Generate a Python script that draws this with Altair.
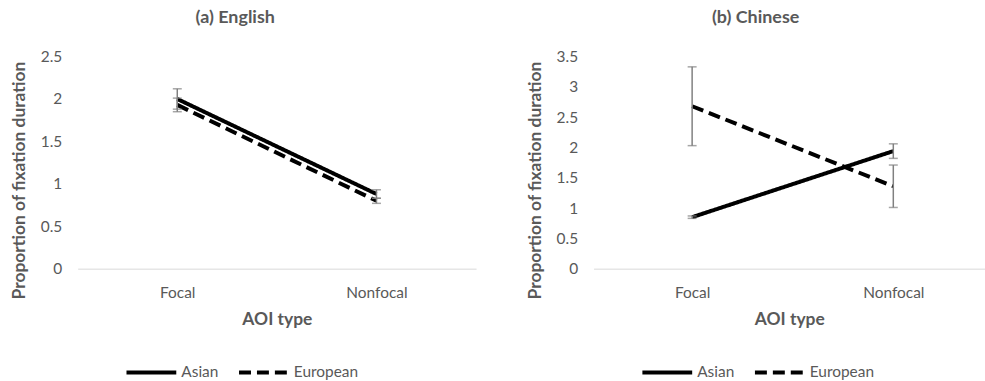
import altair as alt
import pandas as pd

conditions = ["Focal", "Nonfocal"]
groups = ["Asian", "European"]

# (a) English: means and error-bar half-widths
english_asian = [2.00, 0.88]
english_asian_err = [0.12, 0.05]
english_european = [1.93, 0.80]
english_european_err = [0.08, 0.03]

# (b) Chinese
chinese_asian = [0.85, 1.94]
chinese_asian_err = [0.02, 0.12]
chinese_european = [2.68, 1.36]
chinese_european_err = [0.65, 0.35]

FONT = "Lato"
GREY = "#595959"
ERR_GREY = "#808080"


def frame(asian, asian_err, european, european_err):
    rows = []
    for g, means, errs in [("Asian", asian, asian_err), ("European", european, european_err)]:
        for c, m, e in zip(conditions, means, errs):
            rows.append({"aoi": c, "group": g, "mean": m, "lo": m - e, "hi": m + e})
    return pd.DataFrame(rows)


def panel(df, title, ymax, width, xpad, xalign, legend_x, title_dx):
    ticks = [i * 0.5 for i in range(int(round(ymax / 0.5)) + 1)]
    x = alt.X(
        "aoi:N",
        sort=conditions,
        scale=alt.Scale(type="point", padding=xpad, align=xalign),
        axis=alt.Axis(title="AOI type", labelAngle=0),
    )
    yscale = alt.Scale(domain=[0, ymax], nice=False)
    yaxis = alt.Axis(title="Proportion of fixation duration", values=ticks, format="~g", titleY=124)
    base = alt.Chart(df)

    lines = base.mark_line(color="black", strokeWidth=4).encode(
        x=x,
        y=alt.Y("mean:Q", scale=yscale, axis=yaxis),
        strokeDash=alt.StrokeDash(
            "group:N",
            scale=alt.Scale(domain=groups, range=[[1, 0], [12, 6]]),
            legend=alt.Legend(
                title=None,
                orient="none",
                legendX=legend_x,
                legendY=290,
                direction="horizontal",
                symbolType="stroke",
                symbolSize=2500,
                symbolStrokeWidth=4,
                symbolStrokeColor="black",
                labelFont=FONT,
                labelFontSize=15.5,
                labelColor=GREY,
                labelOffset=3,
                columnPadding=12,
            ),
        ),
        detail="group:N",
    )
    bars = base.mark_rule(color=ERR_GREY, strokeWidth=1.5).encode(
        x=x, y=alt.Y("lo:Q", scale=yscale, axis=yaxis), y2="hi:Q"
    )
    cap_lo = base.mark_tick(color=ERR_GREY, thickness=1.5, size=9).encode(
        x=x, y=alt.Y("lo:Q", scale=yscale, axis=yaxis)
    )
    cap_hi = base.mark_tick(color=ERR_GREY, thickness=1.5, size=9).encode(
        x=x, y=alt.Y("hi:Q", scale=yscale, axis=yaxis)
    )
    return alt.layer(lines, bars, cap_lo, cap_hi).properties(
        width=width,
        height=213,
        title=alt.Title(
            title, font=FONT, fontSize=18, fontWeight="bold", color=GREY,
            anchor="middle", frame="bounds", offset=23, dx=title_dx
        ),
    )


left = panel(frame(english_asian, english_asian_err, english_european, english_european_err),
             "(a) English", 2.5, 400, 0.5, 0.5, 47, -8)
right = panel(frame(chinese_asian, chinese_asian_err, chinese_european, chinese_european_err),
              "(b) Chinese", 3.5, 393, 0.4728, 0.518, 47, 0)

chart = (
    alt.hconcat(left, right, spacing=50)
    .resolve_scale(y="independent", strokeDash="independent")
    .resolve_legend(strokeDash="independent")
    .properties(padding={"left": 10, "top": 8, "right": 0, "bottom": 0})
    .configure_view(stroke=None)
    .configure_axis(
        grid=False,
        ticks=False,
        labelFont=FONT,
        labelFontSize=15.5,
        labelColor=GREY,
        titleFont=FONT,
        titleFontSize=17.5,
        titleFontWeight="bold",
        titleColor=GREY,
        labelPadding=16,
    )
    .configure_axisY(domain=False, titlePadding=12)
    .configure_axisX(domain=True, domainColor="#d9d9d9", domainWidth=1, labelPadding=17, titlePadding=10)
)

chart.save("out.html", embed_options={"renderer": "svg", "actions": False})
